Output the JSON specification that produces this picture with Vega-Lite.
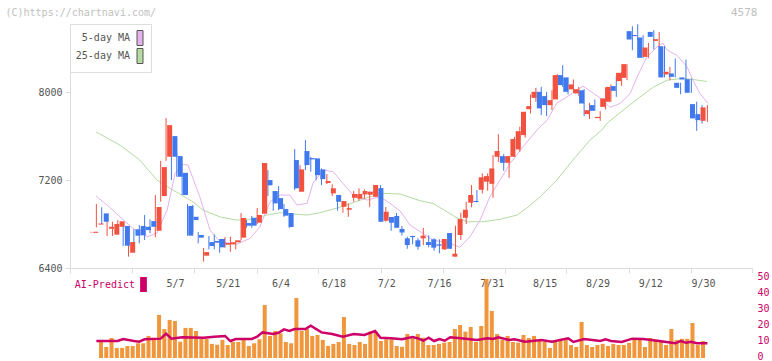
{
"$schema": "https://vega.github.io/schema/vega-lite/v6.json",
"autosize": "none",
"width": 682,
"height": 334,
"padding": {"left": 70, "top": 24, "right": 20, "bottom": 3},
"background": "#ffffff",
"config": {"view": {"stroke": null}, "font": "DejaVu Sans Mono", "axis": {"labelFont": "DejaVu Sans Mono", "titleFont": "DejaVu Sans Mono", "grid": false}, "legend": {"labelFont": "DejaVu Sans Mono"}},
"datasets": {
"c": [
{"i":0,"d":"4/11","o":6720,"h":6730,"l":6720,"c":6730,"v":null},
{"i":1,"d":"4/14","o":6795,"h":6982,"l":6770,"c":6805,"v":10.2},
{"i":2,"d":"4/15","o":6897,"h":6952,"l":6800,"c":6821,"v":6.9},
{"i":3,"d":"4/16","o":6757,"h":6843,"l":6691,"c":6775,"v":12.5},
{"i":4,"d":"4/17","o":6703,"h":6821,"l":6691,"c":6800,"v":6.3},
{"i":5,"d":"4/18","o":6775,"h":6836,"l":6764,"c":6825,"v":6.3},
{"i":6,"d":"4/21","o":6782,"h":6800,"l":6600,"c":6603,"v":7.5},
{"i":7,"d":"4/22","o":6539,"h":6636,"l":6503,"c":6636,"v":7.5},
{"i":8,"d":"4/23","o":6752,"h":6752,"l":6630,"c":6694,"v":9.2},
{"i":9,"d":"4/24","o":6782,"h":6791,"l":6625,"c":6697,"v":9.2},
{"i":10,"d":"4/25","o":6775,"h":6882,"l":6655,"c":6745,"v":13.8},
{"i":11,"d":"4/28","o":6827,"h":6843,"l":6716,"c":6775,"v":11.7},
{"i":12,"d":"4/30","o":6739,"h":7064,"l":6679,"c":6955,"v":26.9},
{"i":13,"d":"5/1","o":7055,"h":7375,"l":7003,"c":7318,"v":18.1},
{"i":14,"d":"5/2","o":7412,"h":7764,"l":7375,"c":7700,"v":23.8},
{"i":15,"d":"5/7","o":7600,"h":7600,"l":7200,"c":7412,"v":23.1},
{"i":16,"d":"5/8","o":7418,"h":7448,"l":7230,"c":7230,"v":10.2},
{"i":17,"d":"5/9","o":7266,"h":7266,"l":7064,"c":7064,"v":18.8},
{"i":18,"d":"5/12","o":6964,"h":6982,"l":6694,"c":6694,"v":18.8},
{"i":19,"d":"5/13","o":6866,"h":6973,"l":6730,"c":6836,"v":16.9},
{"i":20,"d":"5/14","o":6700,"h":6727,"l":6624,"c":6676,"v":11.9},
{"i":21,"d":"5/15","o":6512,"h":6582,"l":6457,"c":6545,"v":11.9},
{"i":22,"d":"5/16","o":6636,"h":6691,"l":6570,"c":6600,"v":8.8},
{"i":23,"d":"5/19","o":6646,"h":6706,"l":6570,"c":6630,"v":8.3},
{"i":24,"d":"5/20","o":6664,"h":6664,"l":6539,"c":6588,"v":11.3},
{"i":25,"d":"5/21","o":6612,"h":6682,"l":6585,"c":6627,"v":8.1},
{"i":26,"d":"5/22","o":6615,"h":6685,"l":6548,"c":6634,"v":10},
{"i":27,"d":"5/23","o":6634,"h":6652,"l":6570,"c":6652,"v":10},
{"i":28,"d":"5/26","o":6676,"h":6900,"l":6655,"c":6855,"v":11.3},
{"i":29,"d":"5/27","o":6809,"h":6836,"l":6766,"c":6785,"v":7.5},
{"i":30,"d":"5/28","o":6857,"h":6873,"l":6766,"c":6785,"v":9.2},
{"i":31,"d":"5/29","o":6812,"h":6945,"l":6800,"c":6882,"v":11.7},
{"i":32,"d":"5/30","o":6894,"h":7355,"l":6894,"c":7355,"v":33.1},
{"i":33,"d":"6/2","o":7200,"h":7291,"l":7055,"c":7152,"v":13.8},
{"i":34,"d":"6/3","o":7100,"h":7100,"l":6921,"c":6988,"v":16.9},
{"i":35,"d":"6/4","o":7036,"h":7145,"l":6927,"c":6936,"v":15.4},
{"i":36,"d":"6/5","o":6936,"h":6982,"l":6866,"c":6876,"v":10},
{"i":37,"d":"6/6","o":6900,"h":6900,"l":6766,"c":6773,"v":9.2},
{"i":38,"d":"6/9","o":7382,"h":7482,"l":7109,"c":7125,"v":37.5},
{"i":39,"d":"6/10","o":7094,"h":7336,"l":7094,"c":7297,"v":16.9},
{"i":40,"d":"6/11","o":7464,"h":7564,"l":7291,"c":7336,"v":18.1},
{"i":41,"d":"6/12","o":7400,"h":7412,"l":7276,"c":7388,"v":13.8},
{"i":42,"d":"6/13","o":7397,"h":7397,"l":7200,"c":7245,"v":14.4},
{"i":43,"d":"6/16","o":7297,"h":7306,"l":7155,"c":7209,"v":11.3},
{"i":44,"d":"6/17","o":7173,"h":7255,"l":7164,"c":7191,"v":7.5},
{"i":45,"d":"6/18","o":7079,"h":7161,"l":7055,"c":7125,"v":8.8},
{"i":46,"d":"6/19","o":7064,"h":7064,"l":6921,"c":7003,"v":10},
{"i":47,"d":"6/20","o":6957,"h":7009,"l":6903,"c":7009,"v":25.6},
{"i":48,"d":"6/23","o":6930,"h":6988,"l":6866,"c":6945,"v":8.8},
{"i":49,"d":"6/24","o":7039,"h":7100,"l":7003,"c":7073,"v":8.1},
{"i":50,"d":"6/25","o":7030,"h":7125,"l":7012,"c":7073,"v":10},
{"i":51,"d":"6/26","o":7070,"h":7115,"l":7027,"c":7100,"v":8.8},
{"i":52,"d":"6/27","o":7067,"h":7094,"l":6957,"c":7094,"v":16.5},
{"i":53,"d":"6/30","o":7048,"h":7155,"l":7048,"c":7155,"v":16.5},
{"i":54,"d":"7/1","o":7127,"h":7155,"l":6821,"c":6821,"v":10.6},
{"i":55,"d":"7/2","o":6830,"h":6955,"l":6821,"c":6912,"v":11.7},
{"i":56,"d":"7/3","o":6864,"h":6864,"l":6739,"c":6812,"v":11.7},
{"i":57,"d":"7/4","o":6873,"h":6900,"l":6766,"c":6766,"v":7.5},
{"i":58,"d":"7/7","o":6755,"h":6782,"l":6694,"c":6723,"v":7},
{"i":59,"d":"7/8","o":6670,"h":6685,"l":6575,"c":6609,"v":15},
{"i":60,"d":"7/9","o":6691,"h":6694,"l":6615,"c":6681,"v":12.3},
{"i":61,"d":"7/10","o":6652,"h":6670,"l":6567,"c":6594,"v":15},
{"i":62,"d":"7/11","o":6670,"h":6764,"l":6609,"c":6694,"v":12.7},
{"i":63,"d":"7/14","o":6636,"h":6697,"l":6588,"c":6609,"v":8.1},
{"i":64,"d":"7/15","o":6661,"h":6670,"l":6557,"c":6585,"v":8.1},
{"i":65,"d":"7/16","o":6615,"h":6661,"l":6534,"c":6603,"v":8.8},
{"i":66,"d":"7/17","o":6570,"h":6664,"l":6564,"c":6664,"v":9.6},
{"i":67,"d":"7/18","o":6718,"h":6718,"l":6575,"c":6575,"v":10},
{"i":68,"d":"7/22","o":6503,"h":6785,"l":6503,"c":6530,"v":18.1},
{"i":69,"d":"7/23","o":6700,"h":6903,"l":6655,"c":6845,"v":20.6},
{"i":70,"d":"7/24","o":6857,"h":7003,"l":6800,"c":6930,"v":16.5},
{"i":71,"d":"7/25","o":6994,"h":7155,"l":6952,"c":7064,"v":19.4},
{"i":72,"d":"7/28","o":7010,"h":7109,"l":6997,"c":7000,"v":10},
{"i":73,"d":"7/29","o":7112,"h":7261,"l":7079,"c":7225,"v":20},
{"i":74,"d":"7/30","o":7185,"h":7261,"l":7103,"c":7236,"v":49.4},
{"i":75,"d":"7/31","o":7166,"h":7427,"l":7039,"c":7306,"v":29.4},
{"i":76,"d":"8/1","o":7412,"h":7618,"l":7366,"c":7464,"v":15},
{"i":77,"d":"8/4","o":7418,"h":7436,"l":7285,"c":7357,"v":11.3},
{"i":78,"d":"8/5","o":7357,"h":7418,"l":7221,"c":7418,"v":13.8},
{"i":79,"d":"8/6","o":7412,"h":7594,"l":7412,"c":7573,"v":10},
{"i":80,"d":"8/7","o":7479,"h":7685,"l":7457,"c":7645,"v":9.6},
{"i":81,"d":"8/8","o":7609,"h":7821,"l":7585,"c":7821,"v":14.4},
{"i":82,"d":"8/12","o":7845,"h":7979,"l":7806,"c":7873,"v":12.5},
{"i":83,"d":"8/13","o":7948,"h":8039,"l":7912,"c":8003,"v":13.8},
{"i":84,"d":"8/14","o":8003,"h":8048,"l":7791,"c":7852,"v":11.3},
{"i":85,"d":"8/15","o":7964,"h":8003,"l":7782,"c":7882,"v":10},
{"i":86,"d":"8/18","o":7882,"h":8018,"l":7836,"c":7927,"v":6.3},
{"i":87,"d":"8/19","o":7934,"h":8164,"l":7934,"c":8155,"v":10.6},
{"i":88,"d":"8/20","o":8155,"h":8245,"l":8048,"c":8064,"v":12},
{"i":89,"d":"8/21","o":8134,"h":8134,"l":7979,"c":8003,"v":12},
{"i":90,"d":"8/22","o":8025,"h":8115,"l":7994,"c":8070,"v":8.1},
{"i":91,"d":"8/25","o":7988,"h":8048,"l":7966,"c":8027,"v":6.9},
{"i":92,"d":"8/26","o":8018,"h":8027,"l":7782,"c":7897,"v":22.5},
{"i":93,"d":"8/27","o":7800,"h":7903,"l":7755,"c":7836,"v":8.1},
{"i":94,"d":"8/28","o":7882,"h":7934,"l":7830,"c":7830,"v":6.9},
{"i":95,"d":"8/29","o":7764,"h":7827,"l":7739,"c":7775,"v":8.1},
{"i":96,"d":"9/1","o":7866,"h":8039,"l":7843,"c":7943,"v":8.8},
{"i":97,"d":"9/2","o":7912,"h":8070,"l":7912,"c":8048,"v":7.5},
{"i":98,"d":"9/3","o":8055,"h":8145,"l":7957,"c":8012,"v":8.8},
{"i":99,"d":"9/4","o":8100,"h":8185,"l":8057,"c":8176,"v":8.1},
{"i":100,"d":"9/5","o":8130,"h":8255,"l":8109,"c":8255,"v":8.1},
{"i":101,"d":"9/8","o":8555,"h":8600,"l":8382,"c":8479,"v":9.4},
{"i":102,"d":"9/9","o":8520,"h":8618,"l":8479,"c":8510,"v":11.3},
{"i":103,"d":"9/10","o":8497,"h":8518,"l":8312,"c":8312,"v":12},
{"i":104,"d":"9/11","o":8321,"h":8448,"l":8312,"c":8406,"v":6.9},
{"i":105,"d":"9/12","o":8548,"h":8564,"l":8388,"c":8503,"v":12.5},
{"i":106,"d":"9/16","o":8466,"h":8548,"l":8397,"c":8482,"v":11.3},
{"i":107,"d":"9/17","o":8418,"h":8418,"l":8134,"c":8134,"v":10.6},
{"i":108,"d":"9/18","o":8161,"h":8230,"l":8109,"c":8185,"v":8.1},
{"i":109,"d":"9/19","o":8170,"h":8306,"l":8134,"c":8139,"v":18.1},
{"i":110,"d":"9/22","o":8085,"h":8085,"l":7982,"c":8039,"v":11.3},
{"i":111,"d":"9/24","o":8134,"h":8297,"l":8109,"c":8115,"v":12},
{"i":112,"d":"9/25","o":8118,"h":8125,"l":7994,"c":7994,"v":12},
{"i":113,"d":"9/26","o":7891,"h":7912,"l":7648,"c":7761,"v":21.9},
{"i":114,"d":"9/29","o":7800,"h":7882,"l":7715,"c":7745,"v":8.1},
{"i":115,"d":"9/30","o":7739,"h":7882,"l":7730,"c":7861,"v":10.6}
],
"ma": [
{"s":"25-day MA","i":0.9,"v":7639},{"s":"25-day MA","i":5.4,"v":7518},{"s":"25-day MA","i":9.1,"v":7382},{"s":"25-day MA","i":12.3,"v":7200},{"s":"25-day MA","i":14.7,"v":7127},{"s":"25-day MA","i":19.0,"v":7003},{"s":"25-day MA","i":20.9,"v":6927},{"s":"25-day MA","i":24.1,"v":6864},{"s":"25-day MA","i":27.2,"v":6836},{"s":"25-day MA","i":30.2,"v":6845},{"s":"25-day MA","i":32.8,"v":6882},{"s":"25-day MA","i":35.3,"v":6903},{"s":"25-day MA","i":37.7,"v":6891},{"s":"25-day MA","i":40.3,"v":6882},{"s":"25-day MA","i":42.7,"v":6903},{"s":"25-day MA","i":45.9,"v":6945},{"s":"25-day MA","i":48.9,"v":6994},{"s":"25-day MA","i":52.0,"v":7048},{"s":"25-day MA","i":54.5,"v":7079},{"s":"25-day MA","i":57.7,"v":7073},{"s":"25-day MA","i":61.4,"v":7012},{"s":"25-day MA","i":63.8,"v":6988},{"s":"25-day MA","i":66.4,"v":6912},{"s":"25-day MA","i":68.3,"v":6855},{"s":"25-day MA","i":70.2,"v":6821},{"s":"25-day MA","i":73.1,"v":6821},{"s":"25-day MA","i":76.3,"v":6843},{"s":"25-day MA","i":79.5,"v":6882},{"s":"25-day MA","i":81.3,"v":6945},{"s":"25-day MA","i":83.8,"v":7048},{"s":"25-day MA","i":86.9,"v":7200},{"s":"25-day MA","i":89.9,"v":7382},{"s":"25-day MA","i":93.1,"v":7564},{"s":"25-day MA","i":95.3,"v":7655},{"s":"25-day MA","i":96.3,"v":7718},{"s":"25-day MA","i":100.0,"v":7864},{"s":"25-day MA","i":102.4,"v":7955},{"s":"25-day MA","i":104.9,"v":8045},{"s":"25-day MA","i":107.5,"v":8109},{"s":"25-day MA","i":110.5,"v":8125},{"s":"25-day MA","i":112.3,"v":8115},{"s":"25-day MA","i":114.9,"v":8097},
{"s":"5-day MA","i":0.9,"v":7057},{"s":"5-day MA","i":3.0,"v":6973},{"s":"5-day MA","i":5.4,"v":6866},{"s":"5-day MA","i":7.8,"v":6761},{"s":"5-day MA","i":10.5,"v":6685},{"s":"5-day MA","i":12.3,"v":6718},{"s":"5-day MA","i":14.2,"v":6927},{"s":"5-day MA","i":15.7,"v":7261},{"s":"5-day MA","i":17.2,"v":7343},{"s":"5-day MA","i":18.1,"v":7336},{"s":"5-day MA","i":20.3,"v":7048},{"s":"5-day MA","i":22.2,"v":6745},{"s":"5-day MA","i":24.1,"v":6639},{"s":"5-day MA","i":27.2,"v":6618},{"s":"5-day MA","i":29.7,"v":6670},{"s":"5-day MA","i":31.5,"v":6775},{"s":"5-day MA","i":33.4,"v":7003},{"s":"5-day MA","i":35.3,"v":7064},{"s":"5-day MA","i":37.1,"v":7064},{"s":"5-day MA","i":38.4,"v":6973},{"s":"5-day MA","i":40.3,"v":6988},{"s":"5-day MA","i":41.4,"v":7170},{"s":"5-day MA","i":43.3,"v":7291},{"s":"5-day MA","i":45.2,"v":7276},{"s":"5-day MA","i":47.0,"v":7170},{"s":"5-day MA","i":48.9,"v":7064},{"s":"5-day MA","i":51.5,"v":7018},{"s":"5-day MA","i":53.9,"v":7048},{"s":"5-day MA","i":55.8,"v":6988},{"s":"5-day MA","i":57.7,"v":6918},{"s":"5-day MA","i":59.5,"v":6791},{"s":"5-day MA","i":61.9,"v":6715},{"s":"5-day MA","i":63.8,"v":6655},{"s":"5-day MA","i":67.0,"v":6624},{"s":"5-day MA","i":68.8,"v":6588},{"s":"5-day MA","i":70.7,"v":6685},{"s":"5-day MA","i":72.6,"v":6836},{"s":"5-day MA","i":74.4,"v":7048},{"s":"5-day MA","i":76.3,"v":7200},{"s":"5-day MA","i":78.2,"v":7352},{"s":"5-day MA","i":80.6,"v":7503},{"s":"5-day MA","i":83.2,"v":7655},{"s":"5-day MA","i":85.1,"v":7745},{"s":"5-day MA","i":86.9,"v":7900},{"s":"5-day MA","i":88.8,"v":7957},{"s":"5-day MA","i":91.8,"v":8055},{"s":"5-day MA","i":93.7,"v":7991},{"s":"5-day MA","i":95.5,"v":7927},{"s":"5-day MA","i":96.8,"v":7861},{"s":"5-day MA","i":98.7,"v":7897},{"s":"5-day MA","i":100.6,"v":7988},{"s":"5-day MA","i":101.9,"v":8139},{"s":"5-day MA","i":103.7,"v":8321},{"s":"5-day MA","i":105.6,"v":8412},{"s":"5-day MA","i":106.7,"v":8448},{"s":"5-day MA","i":107.5,"v":8382},{"s":"5-day MA","i":109.3,"v":8336},{"s":"5-day MA","i":111.2,"v":8230},{"s":"5-day MA","i":112.3,"v":8109},{"s":"5-day MA","i":113.6,"v":7988},{"s":"5-day MA","i":115.1,"v":7897}
],
"ai": [
{"s":"AI-Predict","i":1,"v":10.6},{"s":"AI-Predict","i":5,"v":10.6},{"s":"AI-Predict","i":6,"v":11.9},{"s":"AI-Predict","i":8,"v":10.6},{"s":"AI-Predict","i":9,"v":10.2},{"s":"AI-Predict","i":10,"v":11.7},{"s":"AI-Predict","i":13,"v":12.1},{"s":"AI-Predict","i":14,"v":15.2},{"s":"AI-Predict","i":15,"v":12.1},{"s":"AI-Predict","i":17,"v":13.0},{"s":"AI-Predict","i":21,"v":12.7},{"s":"AI-Predict","i":23,"v":13.3},{"s":"AI-Predict","i":25,"v":13.8},{"s":"AI-Predict","i":26,"v":10.6},{"s":"AI-Predict","i":27,"v":11.9},{"s":"AI-Predict","i":30,"v":11.9},{"s":"AI-Predict","i":31,"v":13.3},{"s":"AI-Predict","i":32,"v":16.0},{"s":"AI-Predict","i":34,"v":15.0},{"s":"AI-Predict","i":35,"v":15.8},{"s":"AI-Predict","i":36,"v":17.9},{"s":"AI-Predict","i":37,"v":16.9},{"s":"AI-Predict","i":38,"v":18.1},{"s":"AI-Predict","i":40,"v":18.1},{"s":"AI-Predict","i":41,"v":20.2},{"s":"AI-Predict","i":43,"v":16.0},{"s":"AI-Predict","i":45,"v":15.0},{"s":"AI-Predict","i":47,"v":13.3},{"s":"AI-Predict","i":49,"v":15.0},{"s":"AI-Predict","i":51,"v":14.4},{"s":"AI-Predict","i":53,"v":16.9},{"s":"AI-Predict","i":54,"v":12.7},{"s":"AI-Predict","i":56,"v":12.3},{"s":"AI-Predict","i":58,"v":11.7},{"s":"AI-Predict","i":60,"v":13.1},{"s":"AI-Predict","i":61,"v":12.3},{"s":"AI-Predict","i":62,"v":10.8},{"s":"AI-Predict","i":63,"v":12.7},{"s":"AI-Predict","i":64,"v":10.6},{"s":"AI-Predict","i":65,"v":11.9},{"s":"AI-Predict","i":66,"v":10.8},{"s":"AI-Predict","i":67,"v":13.0},{"s":"AI-Predict","i":69,"v":12.3},{"s":"AI-Predict","i":72,"v":11.3},{"s":"AI-Predict","i":74,"v":12.3},{"s":"AI-Predict","i":75,"v":11.9},{"s":"AI-Predict","i":76,"v":13.0},{"s":"AI-Predict","i":78,"v":11.3},{"s":"AI-Predict","i":79,"v":11.7},{"s":"AI-Predict","i":81,"v":10.2},{"s":"AI-Predict","i":84,"v":11.3},{"s":"AI-Predict","i":86,"v":10.2},{"s":"AI-Predict","i":89,"v":12.3},{"s":"AI-Predict","i":90,"v":10.0},{"s":"AI-Predict","i":92,"v":11.9},{"s":"AI-Predict","i":95,"v":10.6},{"s":"AI-Predict","i":96,"v":11.7},{"s":"AI-Predict","i":97,"v":10.6},{"s":"AI-Predict","i":99,"v":10.0},{"s":"AI-Predict","i":101,"v":12.1},{"s":"AI-Predict","i":103,"v":11.9},{"s":"AI-Predict","i":106,"v":10.6},{"s":"AI-Predict","i":107,"v":10.2},{"s":"AI-Predict","i":109,"v":9.2},{"s":"AI-Predict","i":110,"v":10.6},{"s":"AI-Predict","i":111,"v":9.6},{"s":"AI-Predict","i":112,"v":10.2},{"s":"AI-Predict","i":113,"v":9.2},{"s":"AI-Predict","i":115,"v":9.2}
]
},
"resolve": {"scale": {"x": "independent", "y": "independent"}, "axis": {"x": "independent", "y": "independent"}},
"layer": [
{
"data": {"name": "ma"},
"mark": {"type": "line", "strokeWidth": 1},
"encoding": {
"x": {"field": "i", "type": "quantitative", "scale": {"domain": [-3.92, 123.32], "nice": false, "zero": false},
"axis": {"orient": "top", "labels": false, "ticks": false, "domain": false, "grid": false, "title": "4578", "titleAnchor": "end", "titleAlign": "right", "titleX": 687, "titleY": -12, "titleBaseline": "middle", "titleColor": "#c0c0c0", "titleFontSize": 11, "titleFontWeight": "normal"}},
"y": {"field": "v", "type": "quantitative", "scale": {"domain": [6400, 8620], "range": [244, 0], "nice": false, "zero": false}, "axis": null},
"detail": {"field": "s", "type": "nominal"},
"color": {"condition": {"test": "datum.s === '5-day MA'", "value": "#e6b2ee"}, "value": "#b4dba2"}
}
},
{
"data": {"name": "ma"},
"mark": {"type": "point", "filled": true, "opacity": 0, "size": 1},
"encoding": {
"x": {"field": "i", "type": "quantitative", "scale": {"domain": [-3.92, 123.32], "nice": false, "zero": false}, "axis": null},
"y": {"field": "v", "type": "quantitative", "scale": {"domain": [6400, 8620], "range": [244, 0], "nice": false, "zero": false}, "axis": null},
"color": {"field": "s", "type": "nominal", "scale": {"domain": ["5-day MA", "25-day MA"], "range": ["#e6b2ee", "#b4dba2"]},
"legend": {"title": null, "orient": "none", "legendX": 0, "legendY": 0, "padding": 6, "strokeColor": "#dddddd", "fillColor": "#ffffff", "symbolType": "M-0.4,-1H0.4V1H-0.4Z", "symbolSize": 225, "symbolOpacity": 1, "symbolStrokeWidth": 1, "symbolStrokeColor": "#555555", "symbolOffset": 56, "labelAlign": "right", "labelOffset": -18, "labelFontSize": 10, "labelColor": "#555555", "rowPadding": -3}}
}
},
{
"data": {"name": "c"},
"mark": {"type": "rule", "strokeWidth": 1},
"encoding": {
"x": {"field": "i", "type": "quantitative", "scale": {"domain": [-3.92, 123.32], "nice": false, "zero": false},
"axis": {"values": [-3.92, 7.65, 19.22, 30.88, 42.44, 54.01, 65.58, 77.15, 88.71, 100.28, 111.85, 123.32], "labels": false, "grid": false, "domainColor": "#dcdcdc", "tickColor": "#dcdcdc", "tickSize": 5, "offset": -90, "title": null}},
"y": {"field": "l", "type": "quantitative", "scale": {"domain": [6400, 8620], "range": [244, 0], "nice": false, "zero": false},
"axis": {"values": [6400, 7200, 8000], "format": "d", "grid": false, "domainColor": "#dcdcdc", "tickColor": "#dcdcdc", "tickSize": 5, "labelColor": "#555555", "labelFontSize": 10, "labelPadding": 3, "title": null}},
"y2": {"field": "h"},
"color": {"condition": {"test": "datum.c >= datum.o", "value": "#f2513f"}, "value": "#4079ee"}
}
},
{
"data": {"name": "c"},
"mark": {"type": "bar", "width": 5},
"encoding": {
"x": {"field": "i", "type": "quantitative", "scale": {"domain": [-3.92, 123.32], "nice": false, "zero": false},
"axis": {"orient": "top", "labels": false, "ticks": false, "domain": false, "grid": false, "title": "(C)https://chartnavi.com/", "titleAnchor": "start", "titleAlign": "left", "titleX": -65, "titleY": -12, "titleBaseline": "middle", "titleColor": "#c0c0c0", "titleFontSize": 10, "titleFontWeight": "normal"}},
"y": {"field": "o", "type": "quantitative", "scale": {"domain": [6400, 8620], "range": [244, 0], "nice": false, "zero": false}, "axis": null},
"y2": {"field": "c"},
"color": {"condition": {"test": "datum.c >= datum.o", "value": "#f2513f"}, "value": "#4079ee"}
}
},
{
"data": {"name": "c"},
"mark": {"type": "bar", "width": 4, "color": "#f0963c"},
"encoding": {
"x": {"field": "i", "type": "quantitative", "scale": {"domain": [-3.92, 123.32], "nice": false, "zero": false},
"axis": {"values": [15, 25, 35, 45, 55, 65, 75, 85, 95, 105, 115], "labelExpr": "['5/7','5/21','6/4','6/18','7/2','7/16','7/31','8/15','8/29','9/12','9/30'][round((datum.value-15)/10)]", "ticks": false, "domain": false, "grid": false, "offset": -75, "labelBaseline": "middle", "labelPadding": 0, "labelColor": "#555555", "labelFontSize": 10, "labelFlush": false, "labelOverlap": false, "title": null}},
"y": {"field": "v", "type": "quantitative", "scale": {"domain": [0, 50], "range": [334, 254], "nice": false},
"axis": {"orient": "right", "values": [0, 10, 20, 30, 40, 50], "ticks": false, "domain": false, "grid": false, "labelColor": "#cc0066", "labelFontSize": 10, "labelPadding": 5, "labelOffset": -2, "title": null}}
}
},
{
"data": {"name": "ai"},
"mark": {"type": "line", "strokeWidth": 2.5, "color": "#cc0066"},
"encoding": {
"x": {"field": "i", "type": "quantitative", "scale": {"domain": [-3.92, 123.32], "nice": false, "zero": false}, "axis": null},
"y": {"field": "v", "type": "quantitative", "scale": {"domain": [0, 50], "range": [334, 254], "nice": false}, "axis": null}
}
},
{
"data": {"name": "ai"},
"mark": {"type": "point", "filled": true, "opacity": 0, "size": 1},
"encoding": {
"x": {"field": "i", "type": "quantitative", "scale": {"domain": [-3.92, 123.32], "nice": false, "zero": false}, "axis": null},
"y": {"field": "v", "type": "quantitative", "scale": {"domain": [0, 50], "range": [334, 254], "nice": false}, "axis": null},
"fill": {"field": "s", "type": "nominal", "scale": {"domain": ["AI-Predict"], "range": ["#cc0066"]},
"legend": {"title": null, "orient": "none", "legendX": 5, "legendY": 253, "padding": 0, "symbolType": "M-0.45,-1H0.45V1H-0.45Z", "symbolSize": 225, "symbolOpacity": 1, "symbolStrokeWidth": 0, "symbolOffset": 61, "labelAlign": "right", "labelOffset": -16, "labelFontSize": 10, "labelColor": "#cc0066"}}
}
}
]
}
